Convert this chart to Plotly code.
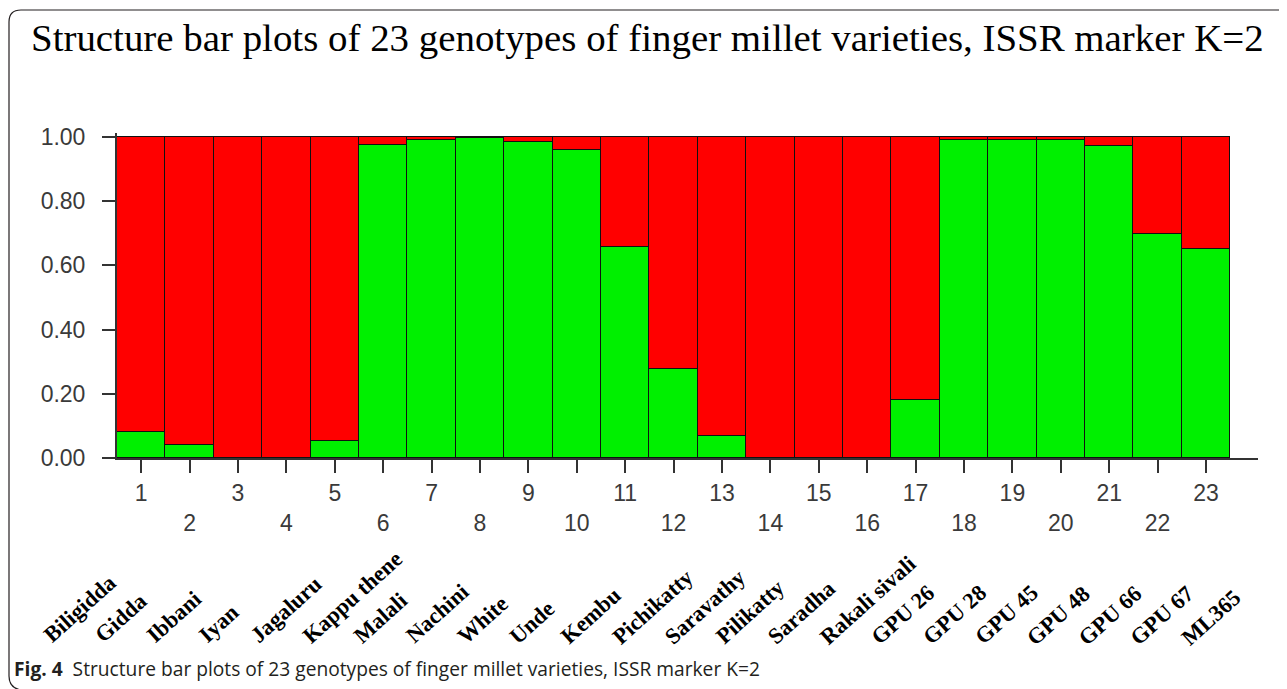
import plotly.graph_objects as go

# ---- data ----
genotype_ids = list(range(1, 24))
varieties = ["Biligidda", "Gidda", "Ibbani", "Iyan", "Jagaluru", "Kappu thene", "Malali",
             "Nachini", "White", "Unde", "Kembu", "Pichikatty", "Saravathy", "Pilikatty",
             "Saradha", "Rakali sivali", "GPU 26", "GPU 28", "GPU 45", "GPU 48", "GPU 66",
             "GPU 67", "ML365"]
cluster_green = [0.080, 0.042, 0.000, 0.000, 0.054, 0.976, 0.992, 0.998, 0.984, 0.961,
                 0.657, 0.277, 0.070, 0.000, 0.000, 0.000, 0.182, 0.992, 0.992, 0.992,
                 0.972, 0.699, 0.650]
cluster_red = [0.920, 0.958, 1.000, 1.000, 0.946, 0.024, 0.008, 0.002, 0.016, 0.039,
               0.343, 0.723, 0.930, 1.000, 1.000, 1.000, 0.818, 0.008, 0.008, 0.008,
               0.028, 0.301, 0.350]
y_ticks = [0.0, 0.2, 0.4, 0.6, 0.8, 1.0]
title_text = "Structure bar plots of 23 genotypes of finger millet varieties, ISSR marker K=2"
caption_bold = "Fig. 4"
caption_text = "Structure bar plots of 23 genotypes of finger millet varieties, ISSR marker K=2"

OFF = 8  # page body margin
W, H = 1287 - OFF, 689 - OFF
ML, MR, MT, MB = 109, 29, 125, 231
PW, PH = W - ML - MR, H - MT - MB


def px(x):
    return (x - OFF - ML) / PW


def py(y):
    return (H - MB - (y - OFF)) / PH


fig = go.Figure()
fig.add_trace(go.Bar(x=genotype_ids, y=cluster_green, marker=dict(color="#00F000",
                     line=dict(color="#111111", width=1.5)), width=1, showlegend=False,
                     hoverinfo="y"))
fig.add_trace(go.Bar(x=genotype_ids, y=cluster_red, marker=dict(color="#FF0000",
                     line=dict(color="#111111", width=1.5)), width=1, showlegend=False,
                     hoverinfo="y"))

ticktext = [str(g) if g % 2 == 1 else "<br>" + str(g) for g in genotype_ids]
tick_font = dict(family="Liberation Sans", size=23, color="#3a3a3a")

fig.update_layout(
    width=W, height=H,
    margin=dict(l=ML, r=MR, t=MT, b=MB, pad=0),
    paper_bgcolor="white", plot_bgcolor="white",
    barmode="stack", bargap=0,
    xaxis=dict(range=[0.5, 0.5 + PW / 48.4], tickvals=genotype_ids, ticktext=ticktext,
               ticks="outside", ticklen=13, tickwidth=2, tickcolor="#333333",
               showline=True, linecolor="#333333", linewidth=2, showgrid=False,
               zeroline=False, tickangle=0, tickfont=tick_font),
    yaxis=dict(range=[0, 1.0125], tickvals=y_ticks, tickformat=".2f",
               ticks="outside", ticklen=13, tickwidth=2, tickcolor="#333333",
               showline=True, linecolor="#333333", linewidth=2, showgrid=False,
               zeroline=False, ticklabelstandoff=12, tickfont=tick_font),
)

annotations = [
    dict(text=title_text, x=px(29), y=py(38), xref="paper", yref="paper",
         xanchor="left", yanchor="middle", showarrow=False,
         font=dict(family="Liberation Serif", size=38.9, color="black")),
    dict(text="<b>" + caption_bold + "</b>  " + caption_text, x=px(12), y=py(668),
         xref="paper", yref="paper", xanchor="left", yanchor="middle", showarrow=False,
         font=dict(family="Open Sans", size=19.2, color="#231f20")),
]
n = len(varieties)
for i, name in enumerate(varieties):
    x0 = 36 + (1174 - 36) * i / (n - 1)
    y0 = 650 + (653 - 650) * i / (n - 1)
    annotations.append(dict(text="<b>" + name + "</b>", x=px(x0), y=py(y0), xref="paper",
                            yref="paper", xanchor="left", yanchor="bottom", showarrow=False,
                            textangle=-42,
                            font=dict(family="Liberation Serif", size=22.5, color="#000000")))
fig.update_layout(annotations=annotations)

# figure frame (rounded top-left and bottom-left corners)
frame = (f"M {px(1300)},{py(10)} L {px(21)},{py(10)} Q {px(9)},{py(10)} {px(9)},{py(22)} "
         f"L {px(9)},{py(676)} Q {px(9)},{py(688)} {px(21)},{py(690)}")
fig.add_shape(type="path", path=frame, xref="paper", yref="paper",
              line=dict(color="#231f20", width=1.2))

fig.write_html("out.html")
